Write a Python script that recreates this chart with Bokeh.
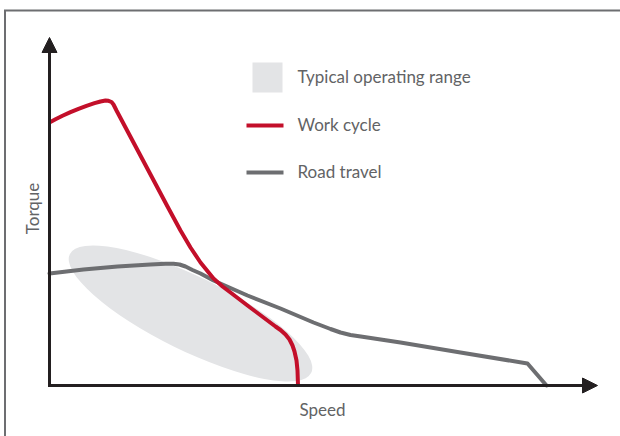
from bokeh.plotting import figure
from bokeh.models import Arrow, NormalHead, Range1d
from bokeh.embed import file_html
from bokeh.resources import INLINE
from bokeh.core.properties import value

# ---- data (schematic units) ----
work_speed = [0, 1.2, 2.6, 4.2, 5.8, 7.4, 9.0, 10.2, 11.2, 11.8, 12.4, 12.8, 13.4,
              16.8, 20.2, 23.6, 26.2, 28.2, 30.2, 32.8, 34.6, 36.2, 39.6, 42.8, 45.2, 46.2,
              47.2, 48.0, 48.6, 49.0, 49.4, 49.6, 49.7]
work_torque = [52.6, 53.24, 53.94, 54.68, 55.34, 55.94, 56.48, 56.8, 57.0, 56.94, 56.7, 56.2, 55.0,
               48.6, 42.2, 35.8, 31.0, 27.6, 24.6, 21.4, 19.8, 18.6, 16.0, 13.6, 11.8, 11.1,
               10.2, 9.2, 8.0, 6.8, 5.0, 3.0, 0]

road_speed = [0, 6.8, 13.6, 20.2, 23.2, 24.8, 26.0, 27.2, 28.6, 30.2, 32.8, 39.6, 46.2,
              52.8, 56.2, 58.2, 60.2, 62.6, 70.2, 82.2, 95.6, 99.4]
road_torque = [22.4, 23.2, 23.8, 24.2, 24.34, 24.36, 24.2, 23.8, 23.1, 22.4, 21.0, 18.0, 15.4,
               12.6, 11.3, 10.6, 10.1, 9.74, 8.6, 6.6, 4.4, 0]

range_x = [28.2]
range_y = [14.4]
range_w = [53.8]
range_h = [14.8]
range_angle = [-0.457]

series_labels = ["Typical operating range", "Work cycle", "Road travel"]
axis_labels = ["Speed", "Torque"]
axis_max = [109.6, 69.6]

RED = "#c30f2a"
GREY = "#6d6e71"
FILL = "#e3e4e6"
INK = "#231f20"
TXT = "#626365"
FONT = "Lato"

p = figure(width=620, height=436,
           x_range=Range1d(-9.8, 114.2), y_range=Range1d(-10.2, 77.0),
           output_backend="svg", toolbar_location=None,
           x_axis_location=None, y_axis_location=None,
           min_border=0, min_border_left=0, min_border_right=0,
           min_border_top=0, min_border_bottom=0)
p.grid.visible = False
p.outline_line_color = None
p.background_fill_color = "white"
p.border_fill_color = "white"

# outer frame (top and left)
fx = -8.9
fy = 75.0
p.line(x=[p.x_range.end, fx, fx], y=[fy, fy, p.y_range.start],
       line_color=GREY, line_width=2, line_join="miter")

# operating range ellipse
p.ellipse(x=range_x, y=range_y, width=range_w, height=range_h, angle=range_angle,
          fill_color=FILL, line_color=None)

# curves
p.line(road_speed, road_torque, line_color=GREY, line_width=4,
       line_join="round", line_cap="round")
p.line(work_speed, work_torque, line_color=RED, line_width=4,
       line_join="round", line_cap="butt")

# axes with arrows
p.add_layout(Arrow(x_start=0, y_start=0, x_end=0, y_end=axis_max[1],
                   end=NormalHead(size=15, fill_color=INK, line_color=INK, line_width=1),
                   line_color=INK, line_width=3, line_cap="square"))
p.add_layout(Arrow(x_start=0, y_start=0, x_end=axis_max[0], y_end=0,
                   end=NormalHead(size=15, fill_color=INK, line_color=INK, line_width=1),
                   line_color=INK, line_width=3, line_cap="square"))

# axis labels
p.text(x=[54.6], y=[-4.7], text=[axis_labels[0]], text_font=value(FONT),
       text_font_size="17px", text_color=TXT, text_align="center", text_baseline="middle")
p.text(x=[-3.4], y=[35.4], text=[axis_labels[1]], text_font=value(FONT),
       text_font_size="17px", text_color=TXT, text_align="center", text_baseline="middle",
       angle=1.5708)

# legend
p.scatter(x=[43.6], y=[61.6], marker="square", size=30, fill_color=FILL, line_color=None)
p.line(x=[39.4, 46.8], y=[52.0, 52.0], line_color=RED, line_width=4)
p.line(x=[39.4, 46.8], y=[42.6, 42.6], line_color=GREY, line_width=4)
p.text(x=[49.6, 49.6, 49.6], y=[61.8, 52.2, 42.8], text=series_labels,
       text_font=value(FONT), text_font_size="17px", text_color=TXT,
       text_align="left", text_baseline="middle")

open("out.html", "w").write(file_html(p, INLINE))
